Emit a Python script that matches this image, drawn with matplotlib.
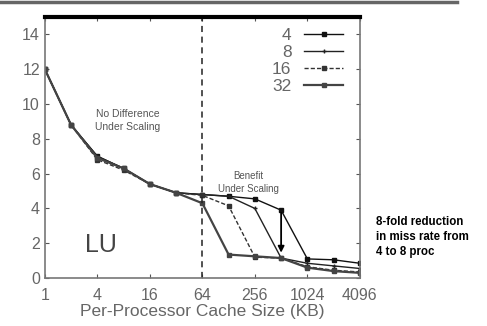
import numpy as np
import matplotlib.pyplot as plt
from matplotlib.lines import Line2D

plt.rcParams['font.family'] = ['Liberation Sans', 'DejaVu Sans']

# cache sizes (KB) and miss rates per processor count
cache_kb = [1, 2, 4, 8, 16, 32, 64, 128, 256, 512, 1024, 2048, 4096]
miss_4 = [12, 8.8, 7.0, 6.3, 5.4, 4.9, 4.8, 4.7, 4.55, 3.9, 1.1, 1.05, 0.85]
miss_8 = [12, 8.8, 7.0, 6.3, 5.4, 4.9, 4.8, 4.7, 4.0, 1.15, 0.85, 0.7, 0.55]
miss_16 = [12, 8.8, 6.8, 6.2, 5.4, 4.9, 4.75, 4.15, 1.2, 1.15, 0.65, 0.45, 0.35]
miss_32 = [12, 8.8, 6.9, 6.3, 5.4, 4.9, 4.3, 1.35, 1.25, 1.15, 0.6, 0.4, 0.3]
xticks = [1, 4, 16, 64, 256, 1024, 4096]

fig = plt.figure(figsize=(4.87, 3.26), dpi=100)
ax = fig.add_axes([0.092, 0.147, 0.647, 0.801])

gray = '#555555'
ax.plot(cache_kb, miss_4, color='#111111', lw=1.0, marker='s', ms=2.5, label='4')
ax.plot(cache_kb, miss_8, color='#222222', lw=1.0, marker='+', ms=3, label='8')
ax.plot(cache_kb, miss_16, color='#333333', lw=1.0, ls=(0, (3, 1.5)), marker='s', ms=2.5, label='16')
ax.plot(cache_kb, miss_32, color='#444444', lw=1.6, marker='s', ms=2.5, label='32')

ax.set_xscale('log', base=2)
ax.set_xlim(1, 4096)
ax.set_ylim(0, 15)
ax.set_xticks(xticks)
ax.set_xticklabels([str(v) for v in xticks])
ax.set_yticks(range(0, 15, 2))
ax.minorticks_off()
ax.tick_params(direction='in', top=True, right=True, length=3, color=gray,
               labelsize=11.5, labelcolor='#666666')
ax.tick_params(axis='x', pad=7)
for s in ['left', 'right', 'bottom']:
    ax.spines[s].set_color('#777777')
    ax.spines[s].set_linewidth(1.2)
ax.spines['top'].set_linewidth(3)
ax.spines['top'].set_color('black')

ax.axvline(64, color='#222222', lw=1.1, ls=(0, (4, 3)))
ax.annotate('', xy=(512, 1.3), xytext=(512, 3.9),
            arrowprops=dict(arrowstyle='-|>', color='black', lw=1.3, mutation_scale=9))

ax.text(9, 9.05, 'No Difference\nUnder Scaling', fontsize=7.5, color='#555555',
        ha='center', va='center', linespacing=1.3)
ax.text(217, 5.5, 'Benefit\nUnder Scaling', fontsize=7, color='#555555',
        ha='center', va='center', linespacing=1.3)
ax.text(4.4, 1.9, 'LU', fontsize=18, color='#444444', ha='center', va='center')

ax.set_xlabel('Per-Processor Cache Size (KB)', fontsize=12.5, color='#666666', labelpad=1)

leg = ax.legend(loc='upper right', bbox_to_anchor=(0.97, 0.985), frameon=False,
                markerfirst=False, fontsize=12.5, handlelength=2.3, labelspacing=0.1,
                handletextpad=0.7, borderaxespad=0)
for t in leg.get_texts():
    t.set_color('#666666')

fig.text(0.772, 0.273, '8-fold reduction\nin miss rate from\n4 to 8 proc', fontsize=8.3,
         fontweight='bold', ha='left', va='center', linespacing=1.3)

fig.add_artist(Line2D([0, 0.938], [0.995, 0.995], color='#666666', lw=2.5))

fig.savefig('out.png', dpi=100)
